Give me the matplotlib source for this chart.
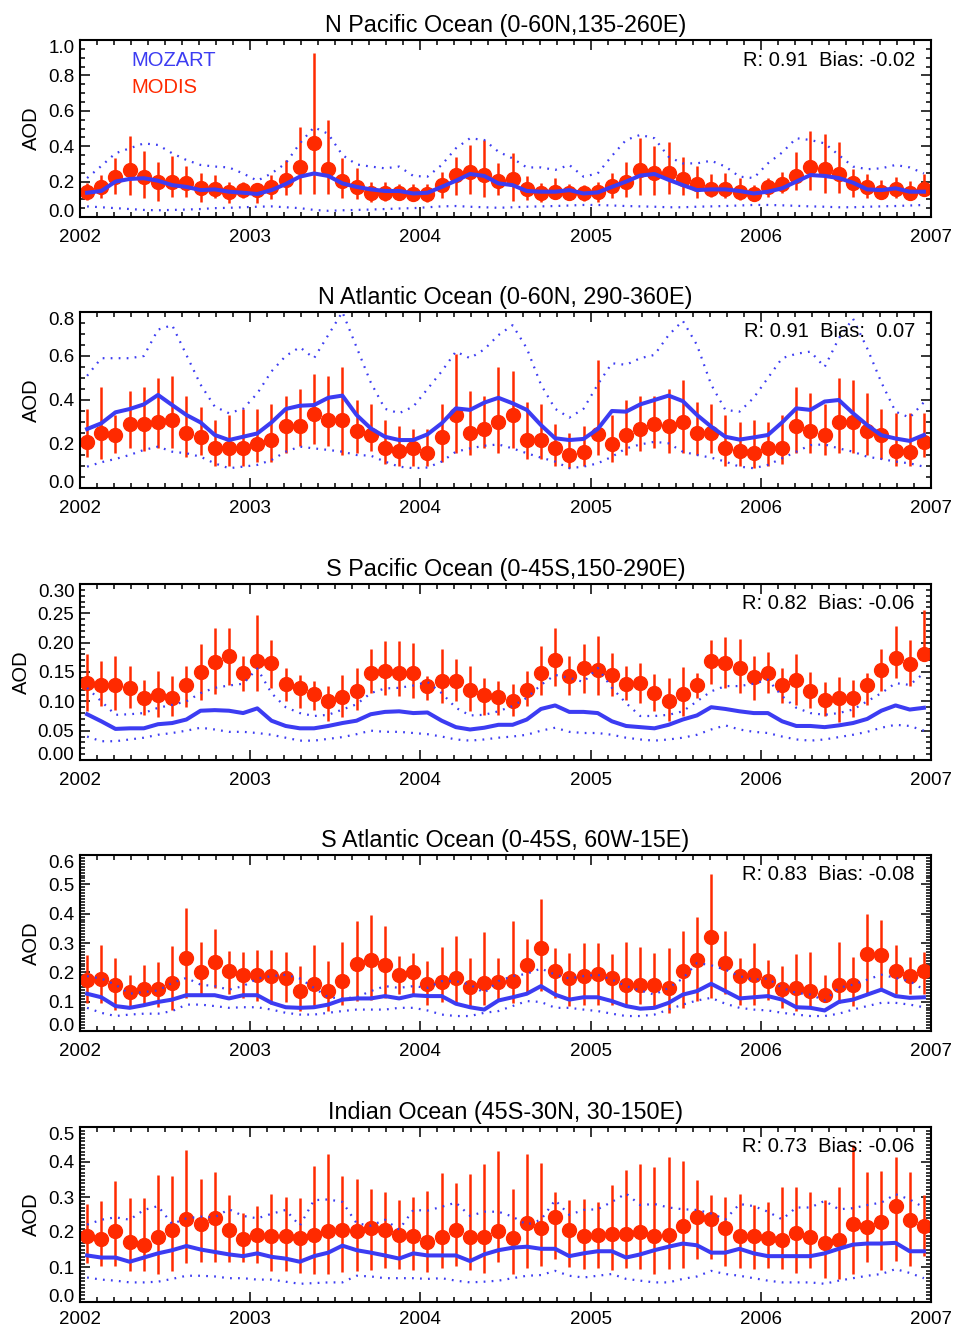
import numpy as np
import matplotlib
matplotlib.use("Agg")
import matplotlib.pyplot as plt
from matplotlib.ticker import MultipleLocator, FormatStrFormatter

plt.rcParams['font.family'] = ['Liberation Sans', 'DejaVu Sans']

RED = '#ff2a00'
BLUE = '#3c3cf2'

years = [2002, 2003, 2004, 2005, 2006, 2007]
n_months = 60
time = years[0] + (np.arange(n_months) + 0.5) / 12.0

titles = ["N Pacific Ocean (0-60N,135-260E)",
          "N Atlantic Ocean (0-60N, 290-360E)",
          "S Pacific Ocean (0-45S,150-290E)",
          "S Atlantic Ocean (0-45S, 60W-15E)",
          "Indian Ocean (45S-30N, 30-150E)"]
stats = ["R: 0.91  Bias: -0.02", "R: 0.91  Bias:  0.07", "R: 0.82  Bias: -0.06",
         "R: 0.83  Bias: -0.08", "R: 0.73  Bias: -0.06"]
ymax = [1.0, 0.8, 0.30, 0.6, 0.5]
ymajor = [0.2, 0.2, 0.05, 0.1, 0.1]
yminor = [0.05, 0.05, 0.01, 0.01, 0.01]
yfmt = ['%.1f', '%.1f', '%.2f', '%.1f', '%.1f']

# ---------------- N Pacific ----------------
modis1 = [0.143,0.168,0.224,0.266,0.228,0.20,0.20,0.19,0.162,0.156,
          0.143,0.15,0.152,0.168,0.209,0.285,0.416,0.27,0.205,0.17,
          0.134,0.137,0.137,0.13,0.13,0.18,0.237,0.256,0.237,0.203,
          0.215,0.156,0.137,0.143,0.133,0.133,0.139,0.175,0.2,0.266,
          0.25,0.25,0.215,0.185,0.156,0.156,0.143,0.13,0.168,0.185,
          0.234,0.285,0.27,0.243,0.194,0.17,0.143,0.156,0.137,0.156]
modis1_hi = [0.19,0.237,0.331,0.458,0.375,0.313,0.345,0.288,0.25,0.237,
             0.2,0.2,0.186,0.237,0.322,0.507,0.928,0.548,0.335,0.275,
             0.2,0.2,0.186,0.186,0.186,0.256,0.34,0.407,0.435,0.303,
             0.36,0.232,0.194,0.22,0.186,0.18,0.2,0.246,0.313,0.445,
             0.40,0.426,0.34,0.288,0.243,0.246,0.22,0.18,0.22,0.256,
             0.369,0.487,0.47,0.426,0.27,0.243,0.21,0.228,0.205,0.243]
modis1_lo = [0.096,0.105,0.13,0.124,0.105,0.092,0.115,0.115,0.086,0.105,
             0.08,0.105,0.08,0.10,0.124,0.13,0.13,0.13,0.11,0.10,
             0.086,0.092,0.10,0.096,0.086,0.11,0.124,0.13,0.115,0.124,
             0.092,0.096,0.086,0.10,0.096,0.092,0.086,0.11,0.115,0.124,
             0.124,0.13,0.124,0.105,0.115,0.105,0.096,0.092,0.115,0.134,
             0.15,0.15,0.134,0.134,0.115,0.11,0.105,0.105,0.105,0.119]
mozart1 = [0.137,0.147,0.2,0.215,0.219,0.205,0.18,0.17,0.152,0.156,
           0.143,0.137,0.13,0.152,0.186,0.228,0.246,0.232,0.19,0.17,
           0.156,0.147,0.147,0.133,0.137,0.17,0.205,0.243,0.232,0.19,
           0.18,0.147,0.143,0.143,0.152,0.133,0.139,0.17,0.2,0.234,
           0.243,0.21,0.18,0.152,0.156,0.156,0.147,0.133,0.143,0.162,
           0.2,0.237,0.232,0.22,0.194,0.156,0.152,0.162,0.143,0.143]
mozart1_hi = [0.22,0.288,0.36,0.388,0.416,0.407,0.36,0.322,0.294,0.285,
              0.28,0.246,0.205,0.246,0.303,0.416,0.507,0.47,0.35,0.297,
              0.285,0.275,0.285,0.232,0.228,0.294,0.388,0.445,0.435,0.369,
              0.331,0.28,0.28,0.266,0.294,0.228,0.246,0.345,0.435,0.464,
              0.445,0.34,0.303,0.303,0.318,0.285,0.228,0.22,0.303,0.364,
              0.445,0.435,0.416,0.35,0.285,0.27,0.275,0.294,0.28,0.246]
mozart1_lo = [0.06,0.055,0.05,0.045,0.04,0.038,0.04,0.042,0.045,0.05,
              0.052,0.055,0.058,0.06,0.055,0.05,0.04,0.035,0.038,0.04,
              0.042,0.045,0.048,0.05,0.055,0.06,0.062,0.058,0.055,0.052,
              0.055,0.058,0.06,0.062,0.065,0.068,0.068,0.065,0.062,0.06,
              0.058,0.055,0.055,0.058,0.06,0.062,0.065,0.068,0.068,0.066,
              0.063,0.06,0.058,0.055,0.055,0.058,0.06,0.062,0.065,0.068]

# ---------------- N Atlantic ----------------
modis2 = [0.21,0.25,0.24,0.29,0.29,0.30,0.31,0.25,0.23,0.18,
          0.18,0.18,0.20,0.22,0.28,0.28,0.335,0.31,0.31,0.26,
          0.24,0.18,0.17,0.18,0.16,0.23,0.33,0.25,0.27,0.30,
          0.33,0.22,0.22,0.18,0.15,0.165,0.245,0.20,0.24,0.27,
          0.29,0.28,0.30,0.25,0.25,0.18,0.17,0.16,0.18,0.18,
          0.28,0.26,0.24,0.30,0.30,0.26,0.24,0.17,0.165,0.21]
modis2_hi = [0.36,0.46,0.33,0.44,0.46,0.50,0.51,0.42,0.37,0.31,
             0.33,0.36,0.36,0.38,0.42,0.45,0.52,0.51,0.55,0.40,
             0.38,0.31,0.28,0.27,0.27,0.38,0.61,0.44,0.42,0.55,
             0.53,0.39,0.38,0.29,0.25,0.28,0.58,0.33,0.40,0.42,
             0.42,0.45,0.49,0.39,0.38,0.33,0.30,0.31,0.30,0.33,
             0.46,0.43,0.38,0.50,0.49,0.43,0.36,0.34,0.34,0.34]
modis2_lo = [0.14,0.13,0.16,0.18,0.17,0.18,0.18,0.14,0.15,0.10,
             0.10,0.10,0.12,0.12,0.16,0.19,0.20,0.19,0.15,0.16,
             0.17,0.11,0.10,0.10,0.10,0.12,0.16,0.15,0.18,0.16,
             0.18,0.13,0.13,0.10,0.09,0.10,0.15,0.12,0.15,0.17,
             0.18,0.16,0.16,0.15,0.16,0.10,0.10,0.09,0.10,0.11,
             0.16,0.16,0.15,0.16,0.16,0.15,0.13,0.10,0.10,0.14]
mozart2 = [0.268,0.294,0.344,0.359,0.38,0.423,0.377,0.332,0.298,0.241,
           0.218,0.233,0.248,0.298,0.359,0.374,0.377,0.41,0.42,0.332,
           0.271,0.233,0.218,0.218,0.244,0.294,0.362,0.355,0.388,0.41,
           0.385,0.355,0.286,0.226,0.218,0.223,0.268,0.35,0.347,0.38,
           0.40,0.42,0.395,0.332,0.279,0.233,0.22,0.23,0.241,0.298,
           0.362,0.355,0.393,0.40,0.34,0.286,0.24,0.225,0.214,0.241]
mozart2_hi = [0.51,0.59,0.59,0.59,0.60,0.72,0.74,0.605,0.47,0.37,
              0.34,0.36,0.43,0.53,0.60,0.64,0.59,0.695,0.80,0.64,
              0.48,0.36,0.34,0.37,0.45,0.53,0.62,0.59,0.63,0.695,
              0.74,0.635,0.47,0.36,0.32,0.36,0.47,0.567,0.56,0.59,
              0.605,0.695,0.76,0.65,0.47,0.355,0.347,0.41,0.50,0.59,
              0.61,0.62,0.55,0.68,0.77,0.635,0.48,0.347,0.32,0.39]
mozart2_lo = [0.097,0.117,0.132,0.15,0.173,0.188,0.165,0.158,0.142,0.112,
              0.09,0.097,0.105,0.127,0.165,0.188,0.18,0.173,0.165,0.15,
              0.147,0.12,0.097,0.09,0.093,0.12,0.165,0.18,0.192,0.198,
              0.18,0.158,0.138,0.12,0.09,0.097,0.112,0.142,0.18,0.198,
              0.21,0.203,0.165,0.15,0.138,0.12,0.097,0.09,0.105,0.135,
              0.165,0.195,0.198,0.18,0.165,0.142,0.132,0.12,0.112,0.097]

# ---------------- S Pacific ----------------
modis3 = [0.131,0.128,0.128,0.122,0.106,0.111,0.106,0.128,0.150,0.167,
          0.178,0.148,0.169,0.165,0.130,0.122,0.113,0.100,0.107,0.118,
          0.148,0.152,0.148,0.148,0.126,0.135,0.135,0.120,0.110,0.107,
          0.101,0.120,0.148,0.171,0.144,0.156,0.154,0.145,0.130,0.131,
          0.114,0.101,0.113,0.127,0.168,0.165,0.157,0.141,0.148,0.128,
          0.137,0.118,0.103,0.106,0.106,0.128,0.154,0.174,0.164,0.181]
modis3_hi = [0.181,0.169,0.177,0.161,0.137,0.152,0.143,0.160,0.198,0.225,
             0.225,0.177,0.248,0.205,0.157,0.145,0.134,0.126,0.145,0.157,
             0.190,0.203,0.202,0.199,0.144,0.190,0.173,0.161,0.140,0.134,
             0.130,0.151,0.194,0.225,0.177,0.198,0.211,0.182,0.161,0.165,
             0.147,0.140,0.158,0.148,0.205,0.209,0.207,0.178,0.184,0.157,
             0.181,0.150,0.133,0.141,0.137,0.148,0.190,0.228,0.205,0.256]
modis3_lo = [0.083,0.092,0.086,0.088,0.077,0.073,0.075,0.090,0.103,0.113,
             0.128,0.117,0.118,0.123,0.101,0.089,0.086,0.067,0.073,0.086,
             0.114,0.110,0.109,0.106,0.103,0.097,0.100,0.083,0.077,0.076,
             0.075,0.092,0.111,0.126,0.111,0.114,0.111,0.109,0.103,0.097,
             0.083,0.066,0.075,0.106,0.130,0.123,0.114,0.103,0.114,0.097,
             0.094,0.089,0.075,0.065,0.073,0.094,0.117,0.140,0.126,0.168]
mozart3 = [0.078,0.066,0.053,0.054,0.054,0.061,0.063,0.069,0.084,0.085,
           0.084,0.080,0.088,0.067,0.058,0.054,0.054,0.058,0.063,0.067,
           0.078,0.082,0.083,0.080,0.081,0.067,0.056,0.052,0.055,0.060,
           0.060,0.069,0.087,0.093,0.082,0.082,0.080,0.066,0.058,0.056,
           0.054,0.060,0.069,0.076,0.090,0.087,0.083,0.080,0.080,0.066,
           0.058,0.058,0.056,0.059,0.063,0.070,0.084,0.093,0.086,0.089]
mozart3_hi = [0.123,0.100,0.077,0.078,0.080,0.089,0.094,0.100,0.114,0.123,
              0.127,0.130,0.156,0.114,0.090,0.080,0.075,0.077,0.086,0.095,
              0.114,0.122,0.123,0.127,0.133,0.114,0.089,0.076,0.077,0.083,
              0.092,0.106,0.128,0.145,0.140,0.133,0.157,0.123,0.097,0.075,
              0.075,0.077,0.083,0.100,0.117,0.126,0.126,0.130,0.137,0.109,
              0.089,0.080,0.077,0.080,0.086,0.100,0.114,0.131,0.128,0.148]
mozart3_lo = [0.040,0.032,0.032,0.035,0.038,0.043,0.046,0.050,0.055,0.052,
              0.048,0.048,0.046,0.043,0.038,0.033,0.033,0.036,0.039,0.044,
              0.050,0.048,0.048,0.046,0.044,0.040,0.035,0.033,0.035,0.038,
              0.040,0.043,0.050,0.055,0.048,0.046,0.046,0.043,0.038,0.035,
              0.033,0.035,0.038,0.043,0.052,0.059,0.052,0.048,0.046,0.040,
              0.035,0.033,0.035,0.039,0.043,0.048,0.055,0.060,0.058,0.050]

# ---------------- S Atlantic ----------------
modis4 = [0.175,0.178,0.158,0.134,0.142,0.142,0.164,0.249,0.202,0.235,
          0.204,0.192,0.192,0.187,0.181,0.138,0.161,0.136,0.170,0.229,
          0.243,0.224,0.190,0.202,0.161,0.167,0.181,0.149,0.164,0.167,
          0.170,0.226,0.283,0.204,0.181,0.187,0.195,0.181,0.158,0.158,
          0.156,0.147,0.204,0.243,0.319,0.232,0.187,0.192,0.170,0.142,
          0.147,0.136,0.122,0.156,0.156,0.263,0.258,0.204,0.187,0.206]
modis4_hi = [0.258,0.294,0.249,0.192,0.224,0.235,0.289,0.421,0.303,0.349,
             0.274,0.269,0.277,0.277,0.269,0.221,0.292,0.238,0.303,0.374,
             0.396,0.357,0.255,0.266,0.238,0.285,0.323,0.249,0.336,0.249,
             0.376,0.315,0.451,0.283,0.266,0.300,0.300,0.263,0.302,0.285,
             0.266,0.283,0.342,0.387,0.535,0.342,0.249,0.300,0.243,0.221,
             0.263,0.271,0.192,0.303,0.251,0.399,0.379,0.294,0.251,0.271]
modis4_lo = [0.096,0.096,0.070,0.079,0.090,0.081,0.073,0.113,0.125,0.147,
             0.127,0.113,0.102,0.093,0.099,0.068,0.081,0.068,0.088,0.102,
             0.107,0.111,0.127,0.119,0.090,0.099,0.093,0.077,0.090,0.102,
             0.096,0.130,0.138,0.113,0.085,0.090,0.090,0.090,0.085,0.093,
             0.081,0.062,0.079,0.102,0.113,0.125,0.090,0.088,0.107,0.079,
             0.068,0.081,0.102,0.096,0.085,0.125,0.136,0.125,0.125,0.125]
mozart4 = [0.127,0.115,0.085,0.079,0.088,0.099,0.107,0.122,0.122,0.122,
           0.111,0.122,0.122,0.096,0.081,0.079,0.081,0.090,0.107,0.111,
           0.111,0.119,0.111,0.122,0.119,0.119,0.093,0.081,0.073,0.104,
           0.115,0.127,0.153,0.124,0.107,0.115,0.115,0.102,0.085,0.076,
           0.079,0.096,0.124,0.136,0.161,0.136,0.111,0.115,0.119,0.107,
           0.081,0.079,0.070,0.099,0.107,0.124,0.141,0.119,0.113,0.115]
mozart4_hi = [0.187,0.179,0.158,0.127,0.133,0.138,0.164,0.181,0.158,0.153,
              0.141,0.153,0.179,0.187,0.192,0.179,0.147,0.115,0.111,0.115,
              0.136,0.153,0.147,0.153,0.147,0.170,0.170,0.158,0.130,0.170,
              0.187,0.195,0.213,0.192,0.179,0.187,0.192,0.175,0.153,0.138,
              0.124,0.147,0.179,0.232,0.224,0.209,0.187,0.175,0.179,0.147,
              0.130,0.124,0.104,0.147,0.158,0.175,0.192,0.181,0.170,0.141]
mozart4_lo = [0.079,0.062,0.051,0.056,0.059,0.059,0.068,0.090,0.090,0.085,
              0.079,0.081,0.081,0.073,0.062,0.056,0.056,0.062,0.068,0.073,
              0.073,0.073,0.079,0.079,0.070,0.056,0.051,0.051,0.062,0.068,
              0.085,0.102,0.099,0.079,0.079,0.073,0.068,0.059,0.051,0.051,
              0.056,0.073,0.090,0.104,0.113,0.093,0.079,0.073,0.070,0.062,
              0.056,0.051,0.051,0.059,0.073,0.085,0.096,0.096,0.090,0.081]

# ---------------- Indian ----------------
modis5 = [0.188,0.180,0.202,0.171,0.164,0.186,0.205,0.237,0.223,0.239,
          0.207,0.180,0.192,0.188,0.188,0.183,0.192,0.202,0.205,0.202,
          0.211,0.207,0.192,0.190,0.171,0.186,0.205,0.186,0.186,0.202,
          0.183,0.225,0.211,0.244,0.207,0.190,0.192,0.195,0.195,0.199,
          0.190,0.192,0.216,0.244,0.237,0.211,0.190,0.190,0.183,0.178,
          0.197,0.186,0.169,0.176,0.223,0.214,0.230,0.274,0.235,0.218]
modis5_hi = [0.280,0.289,0.345,0.296,0.296,0.364,0.361,0.434,0.352,0.371,
             0.305,0.255,0.274,0.308,0.299,0.296,0.390,0.424,0.359,0.352,
             0.324,0.315,0.291,0.299,0.317,0.368,0.340,0.366,0.394,0.432,
             0.324,0.422,0.396,0.315,0.291,0.293,0.286,0.333,0.377,0.394,
             0.387,0.415,0.402,0.349,0.305,0.299,0.310,0.277,0.286,0.330,
             0.329,0.315,0.291,0.330,0.450,0.371,0.375,0.415,0.371,0.305]
modis5_lo = [0.111,0.103,0.103,0.089,0.089,0.080,0.089,0.111,0.113,0.115,
             0.115,0.113,0.111,0.089,0.089,0.084,0.080,0.080,0.086,0.089,
             0.092,0.096,0.094,0.092,0.086,0.096,0.103,0.092,0.083,0.113,
             0.080,0.098,0.103,0.122,0.101,0.094,0.096,0.092,0.096,0.094,
             0.080,0.094,0.098,0.122,0.122,0.103,0.098,0.094,0.096,0.094,
             0.083,0.098,0.068,0.066,0.080,0.113,0.092,0.117,0.103,0.131]
mozart5 = [0.133,0.127,0.127,0.115,0.127,0.139,0.148,0.160,0.150,0.143,
           0.136,0.131,0.139,0.129,0.124,0.115,0.131,0.141,0.161,0.148,
           0.141,0.133,0.124,0.139,0.133,0.133,0.133,0.117,0.136,0.148,
           0.155,0.158,0.152,0.152,0.131,0.139,0.145,0.145,0.127,0.136,
           0.148,0.158,0.167,0.162,0.141,0.141,0.152,0.139,0.131,0.131,
           0.131,0.131,0.139,0.152,0.164,0.167,0.167,0.169,0.145,0.145]
mozart5_hi = [0.221,0.235,0.242,0.235,0.263,0.274,0.223,0.239,0.244,0.242,
              0.265,0.246,0.239,0.252,0.263,0.218,0.291,0.293,0.286,0.225,
              0.218,0.235,0.207,0.263,0.261,0.272,0.284,0.246,0.258,0.258,
              0.244,0.221,0.235,0.291,0.249,0.263,0.265,0.286,0.310,0.277,
              0.280,0.270,0.265,0.263,0.253,0.236,0.280,0.274,0.258,0.236,
              0.270,0.270,0.289,0.265,0.268,0.277,0.284,0.308,0.293,0.270]
mozart5_lo = [0.070,0.064,0.061,0.056,0.056,0.058,0.066,0.075,0.075,0.073,
              0.068,0.068,0.064,0.064,0.058,0.052,0.054,0.056,0.056,0.075,
              0.073,0.068,0.068,0.068,0.066,0.068,0.061,0.056,0.058,0.061,
              0.068,0.075,0.077,0.089,0.075,0.070,0.075,0.080,0.066,0.061,
              0.056,0.056,0.066,0.073,0.089,0.080,0.075,0.068,0.061,0.056,
              0.056,0.056,0.052,0.061,0.068,0.075,0.080,0.094,0.083,0.068]

panels = [
    (modis1, modis1_hi, modis1_lo, mozart1, mozart1_hi, mozart1_lo),
    (modis2, modis2_hi, modis2_lo, mozart2, mozart2_hi, mozart2_lo),
    (modis3, modis3_hi, modis3_lo, mozart3, mozart3_hi, mozart3_lo),
    (modis4, modis4_hi, modis4_lo, mozart4, mozart4_hi, mozart4_lo),
    (modis5, modis5_hi, modis5_lo, mozart5, mozart5_hi, mozart5_lo),
]

W, H = 955, 1329
fig = plt.figure(figsize=(W / 100, H / 100), dpi=100)
fig.patch.set_facecolor('white')

tops = [40, 312, 584, 855, 1127]
heights = [177, 176, 176, 176, 175]
xpads = [8.5, 8.5, 8.5, 8.5, 6.5]
left_px, width_px = 80, 851

FS = 13.5      # tick labels
FS_TXT = 14.5  # annotations / legend / axis label
FS_TTL = 16.8  # titles
for k in range(5):
    top = tops[k]
    h = heights[k]
    ax = fig.add_axes([left_px / W, 1 - (top + h) / H, width_px / W, h / H])
    mo, mo_hi, mo_lo, mz, mz_hi, mz_lo = [np.asarray(a, dtype=float) for a in panels[k]]

    ax.errorbar(time, mo, yerr=[mo - mo_lo, mo_hi - mo], fmt='o', color=RED,
                ms=10, mec=RED, mfc=RED, elinewidth=1.8, capsize=0, zorder=2)
    ax.plot(time, mz, color=BLUE, lw=2.9, zorder=3, solid_joinstyle='round')
    ax.plot(time, mz_hi, color=BLUE, lw=1.6, ls=(0, (0.8, 2.8)), zorder=3)
    ax.plot(time, mz_lo, color=BLUE, lw=1.6, ls=(0, (0.8, 2.8)), zorder=3)

    ax.set_xlim(years[0], years[-1])
    ax.set_ylim(0, ymax[k])
    ax.set_xticks(years)
    ax.set_xticklabels([str(y) for y in years], fontsize=FS)
    ax.xaxis.set_minor_locator(MultipleLocator(0.1))
    ax.yaxis.set_major_locator(MultipleLocator(ymajor[k]))
    ax.yaxis.set_minor_locator(MultipleLocator(yminor[k]))
    ax.yaxis.set_major_formatter(FormatStrFormatter(yfmt[k]))
    ax.tick_params(axis='both', which='both', direction='in', top=True, right=True,
                   labelsize=FS, width=1.1)
    ax.tick_params(axis='x', which='major', length=7, pad=xpads[k])
    ax.tick_params(axis='x', which='minor', length=3.5)
    ax.tick_params(axis='y', which='major', length=7, pad=4)
    ax.tick_params(axis='y', which='minor', length=3.5)
    for s in ax.spines.values():
        s.set_linewidth(1.5)

    ax.set_ylabel('AOD', fontsize=FS_TXT, labelpad=5)
    ax.set_title(titles[k], fontsize=FS_TTL, pad=6)
    ax.text(0.981, 0.887, stats[k], transform=ax.transAxes, ha='right', va='center',
            fontsize=FS_TXT)

    fig.canvas.draw()
    mt = [t for t in ax.yaxis.get_major_ticks()
          if 0 <= t.get_loc() <= ymax[k] + 1e-9]
    if mt:
        mt[0].label1.set_va('baseline')
        mt[-1].label1.set_va('top')

    if k == 0:
        ax.text(0.06, 0.887, 'MOZART', color=BLUE, transform=ax.transAxes,
                ha='left', va='center', fontsize=FS_TXT)
        ax.text(0.06, 0.734, 'MODIS', color=RED, transform=ax.transAxes,
                ha='left', va='center', fontsize=FS_TXT)

fig.savefig('out.png', dpi=100)
